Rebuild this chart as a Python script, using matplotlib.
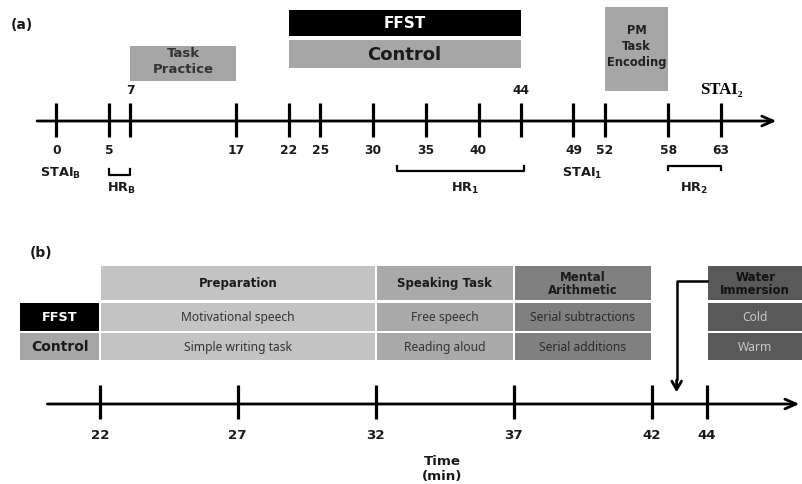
import matplotlib.pyplot as plt
from matplotlib.patches import Rectangle

plt.rcParams['font.family'] = ['DejaVu Sans']
plt.rcParams['font.weight'] = 'bold'
plt.rcParams['mathtext.default'] = 'regular'
REG = ['Noto Sans', 'DejaVu Sans']

# ---- panel (a) data
ticks_a = [0, 5, 7, 17, 22, 25, 30, 35, 40, 44, 49, 52, 58, 63]
above_a = [7, 44]
box_labels = ['FFST', 'Control', 'Task\nPractice', 'PM\nTask\nEncoding']
box_start = [22, 22, 7, 52]
box_end = [44, 44, 17, 58]
hr_labels = [r'HR$_\mathbf{B}$', r'HR$_\mathbf{1}$', r'HR$_\mathbf{2}$']
hr_start = [5, 32.3, 58]
hr_end = [7, 44.3, 63]
stai_labels = [r'STAI$_\mathbf{B}$', r'STAI$_\mathbf{1}$']
stai_times = [0.4, 49.8]

# ---- panel (b) data
ticks_b = [22, 27, 32, 37, 42, 44]
col_names = ['Preparation', 'Speaking Task', 'Mental\nArithmetic', 'Water\nImmersion']
col_start = [22, 32, 37, 44]
col_end = [32, 37, 42, 48]
ffst_row = ['Motivational speech', 'Free speech', 'Serial subtractions', 'Cold']
control_row = ['Simple writing task', 'Reading aloud', 'Serial additions', 'Warm']
immersion_time = 42.9

fig = plt.figure(figsize=(8.03, 4.85), dpi=100)

# panel (a): x in minutes, y in pixel rows
ax = fig.add_axes([0, 245 / 485, 1, 240 / 485])
ax.set_xlim(-56.5 / 10.55, (803 - 56.5) / 10.55)
ax.set_ylim(240, 0)
ax.axis('off')

ax.text(-4.3, 25, '(a)', fontsize=10, va='center', color='#1a1a1a')

ax.annotate('', xy=(68.5, 122), xytext=(-2.1, 122), annotation_clip=False,
            arrowprops=dict(arrowstyle='->,head_width=0.35,head_length=0.8', lw=2, color='black'))
for t in ticks_a:
    ax.plot([t, t], [104, 138], color='black', lw=2.3, solid_capstyle='butt')
    y = 90 if t in above_a else 151
    ax.text(t, y, str(t), ha='center', va='center', fontsize=8.8, color='#1a1a1a')

box_y = [(11, 37), (41, 69), (47, 82), (8, 92)]
box_ty = [24, 55, 61.5, 46.5]
box_ls = [1.0, 1.0, 1.35, 1.3]
box_fc = ['black', '#a6a6a6', '#a6a6a6', '#a6a6a6']
box_tc = ['white', '#1a1a1a', '#333333', '#222222']
box_fs = [11, 13, 9.5, 8.3]
for k, (lab, s, e) in enumerate(zip(box_labels, box_start, box_end)):
    y0, y1 = box_y[k]
    ax.add_patch(Rectangle((s, y0), e - s, y1 - y0, facecolor=box_fc[k], edgecolor='none'))
    ax.text((s + e) / 2, box_ty[k], lab, ha='center', va='center', fontsize=box_fs[k],
            color=box_tc[k], linespacing=box_ls[k])

# HR brackets
hr_y = [(170, 176), (167, 172), (171, 167)]
hr_tx = [6.2, 38.7, 60.4]
for lab, s, e, (yh, yb), tx in zip(hr_labels, hr_start, hr_end, hr_y, hr_tx):
    ax.plot([s, s, e, e], [yh, yb, yb, yh], color='black', lw=1.6)
    ax.text(tx, 188, lab, ha='center', va='center', fontsize=9.3, color='#1a1a1a')

for lab, t in zip(stai_labels, stai_times):
    ax.text(t, 173, lab, ha='center', va='center', fontsize=9.3, color='#1a1a1a')
ax.text(63, 90, 'STAI\u2082', ha='center', va='center', fontsize=12,
        family=['Liberation Serif', 'DejaVu Serif'])

# panel (b)
bx = fig.add_axes([0, 0, 1, 245 / 485])
bx.set_xlim(34 - 431 / 27.6, 34 + 372 / 27.6)
bx.set_ylim(485, 240)
bx.axis('off')

bx.text(19.47, 253, '(b)', fontsize=10, va='center', color='#1a1a1a')

col_fc = ['#c3c3c3', '#a9a9a9', '#808080', '#595959']
head_tc = ['#1a1a1a', '#1a1a1a', '#1a1a1a', '#111111']
cell_tc = ['#333333', '#333333', '#2a2a2a', '#c8c8c8']
rows_y = [(267, 301), (304, 332), (334, 361)]
for j, (name, s, e) in enumerate(zip(col_names, col_start, col_end)):
    texts = [name, ffst_row[j], control_row[j]]
    for i, (y0, y1) in enumerate(rows_y):
        bx.add_patch(Rectangle((s + 0.04, y0), e - s - 0.08, y1 - y0,
                               facecolor=col_fc[j], edgecolor='none'))
        cx = (s + min(e, 47.5)) / 2
        if i == 0:
            bx.text(cx, (y0 + y1) / 2, texts[i], ha='center', va='center',
                    fontsize=8.5, color=head_tc[j], linespacing=1.0)
        else:
            bx.text(cx, (y0 + y1) / 2, texts[i], ha='center', va='center',
                    fontsize=8.7, fontweight='normal', family=REG, color=cell_tc[j])

# row labels
lab_s = 34 - 411 / 27.6
bx.add_patch(Rectangle((lab_s, 304), 22 - lab_s - 0.04, 28, facecolor='black', edgecolor='none'))
bx.text((lab_s + 22) / 2, 318, 'FFST', ha='center', va='center', fontsize=9.3, color='white')
bx.add_patch(Rectangle((lab_s, 334), 22 - lab_s - 0.04, 27, facecolor='#a6a6a6', edgecolor='none'))
bx.text((lab_s + 22) / 2, 347.5, 'Control', ha='center', va='center', fontsize=10, color='#1a1a1a')

# time axis
bx.annotate('', xy=(47.45, 405), xytext=(20.0, 405), annotation_clip=False,
            arrowprops=dict(arrowstyle='->,head_width=0.35,head_length=0.8', lw=2, color='black'))
for t in ticks_b:
    bx.plot([t, t], [386, 420], color='black', lw=2.3, solid_capstyle='butt')
    bx.text(t, 436, str(t), ha='center', va='center', fontsize=9.6, color='#1a1a1a')

# water immersion pointer
bx.plot([44, immersion_time, immersion_time], [282, 282, 380], color='black', lw=1.8)
bx.annotate('', xy=(immersion_time, 396), xytext=(immersion_time, 378),
            arrowprops=dict(arrowstyle='->,head_width=0.35,head_length=0.6', lw=2, color='black'))

bx.text(34.4, 469, 'Time\n(min)', ha='center', va='center', fontsize=9.6,
        color='#1a1a1a', linespacing=1.2)

fig.savefig('out.png', dpi=100)
